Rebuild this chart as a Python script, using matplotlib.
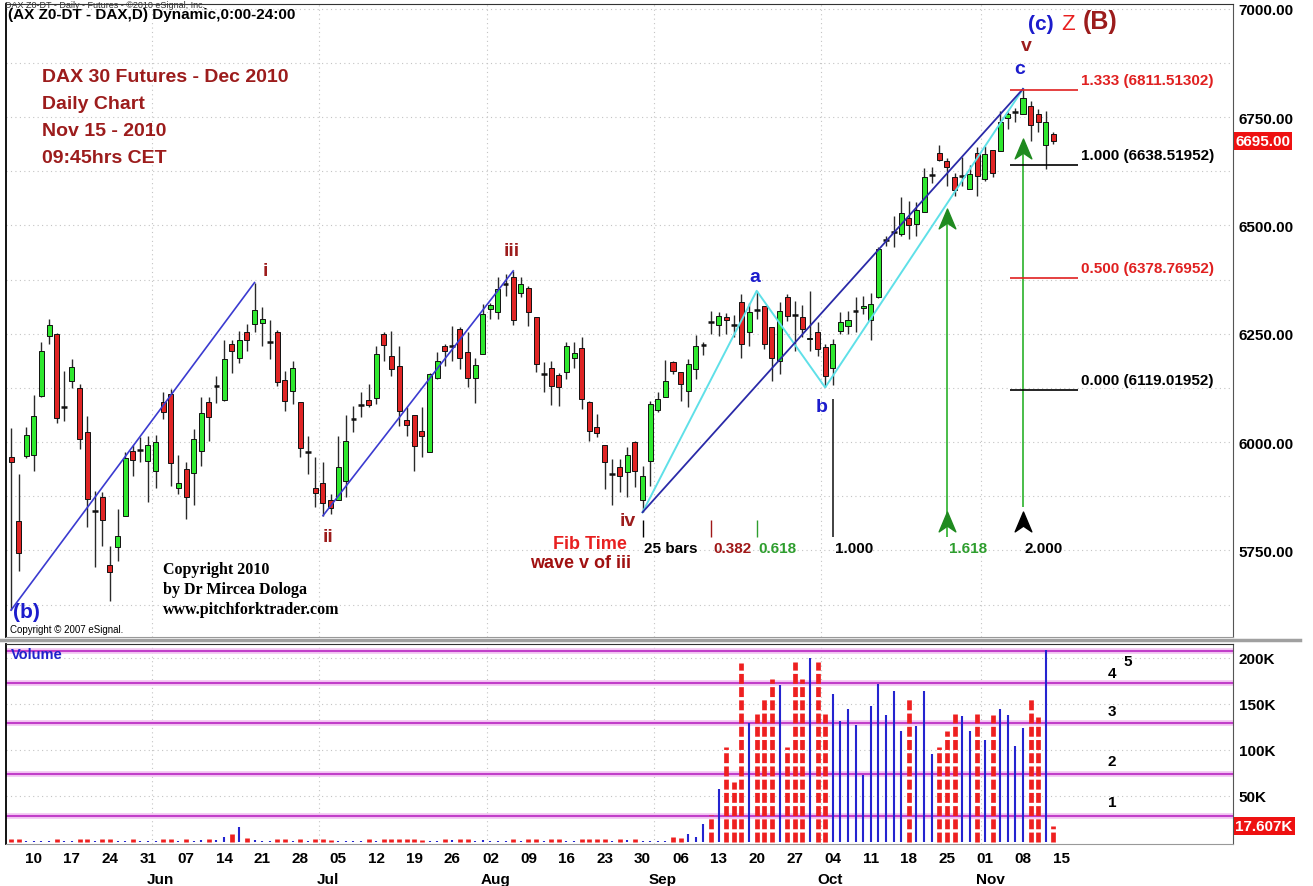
import numpy as np
import pandas as pd
import matplotlib

matplotlib.use("Agg")
import matplotlib.pyplot as plt
from matplotlib.lines import Line2D
from matplotlib.path import Path
from matplotlib.transforms import blended_transform_factory

plt.rcParams["font.family"] = ["Liberation Sans", "DejaVu Sans"]

# DAX Dec-2010 futures, daily bars (bar 0 = 2010-05-05)
opens = [5966, 5818, 5967, 5971, 6107, 6245, 6249, 6082, 6140, 6124, 6022, 5840, 5874, 5716, 5757,
         5830, 5980, 5982, 5957, 5934, 6092, 6111, 5894, 5938, 5928, 5980, 6092, 6130, 6097, 6226,
         6195, 6253, 6272, 6274, 6232, 6253, 6143, 6117, 6093, 5978, 5895, 5905, 5866, 5866, 5911,
         6053, 6086, 6098, 6101, 6249, 6199, 6175, 6052, 6063, 6026, 5978, 6148, 6222, 6222, 6261,
         6208, 6147, 6203, 6307, 6301, 6365, 6380, 6343, 6355, 6288, 6156, 6170, 6155, 6161, 6193,
         6216, 6092, 6034, 5993, 5926, 5942, 5930, 6001, 5867, 5957, 6075, 6105, 6184, 6161, 6117,
         6169, 6225, 6278, 6269, 6288, 6270, 6324, 6253, 6304, 6315, 6265, 6188, 6334, 6293, 6288,
         6237, 6253, 6219, 6170, 6257, 6267, 6302, 6310, 6282, 6334, 6466, 6484, 6480, 6516, 6503,
         6530, 6617, 6668, 6649, 6612, 6613, 6584, 6667, 6608, 6674, 6672, 6747, 6761, 6757, 6776,
         6757, 6685, 6711]
highs = [6032, 5926, 6035, 6108, 6230, 6284, 6252, 6165, 6192, 6134, 6061, 5888, 5884, 5761, 5845,
         5976, 5992, 6011, 6015, 6017, 6115, 6122, 5971, 5953, 6031, 6103, 6103, 6152, 6236, 6236,
         6257, 6272, 6368, 6312, 6282, 6258, 6165, 6188, 6093, 6013, 5965, 5953, 5880, 6015, 6063,
         6084, 6115, 6134, 6221, 6253, 6257, 6221, 6080, 6063, 6080, 6160, 6207, 6226, 6268, 6265,
         6255, 6195, 6318, 6322, 6380, 6388, 6395, 6380, 6361, 6288, 6184, 6188, 6159, 6230, 6230,
         6242, 6095, 6065, 5993, 5961, 5961, 5988, 6003, 5945, 6095, 6116, 6190, 6188, 6161, 6192,
         6247, 6232, 6302, 6299, 6297, 6293, 6342, 6322, 6349, 6315, 6265, 6324, 6342, 6326, 6316,
         6349, 6276, 6226, 6238, 6299, 6303, 6334, 6338, 6345, 6449, 6476, 6522, 6565, 6557, 6555,
         6632, 6634, 6685, 6655, 6622, 6657, 6639, 6680, 6684, 6674, 6765, 6761, 6770, 6815, 6788,
         6768, 6765, 6715]
lows = [5612, 5703, 5962, 5934, 6105, 6226, 6045, 6049, 6125, 5985, 5803, 5711, 5761, 5634, 5726,
        5830, 5921, 5953, 5861, 5894, 6053, 5899, 5880, 5822, 5855, 5945, 6003, 6090, 6094, 6159,
        6182, 6211, 6253, 6222, 6192, 6130, 6072, 6088, 5966, 5926, 5849, 5830, 5834, 5866, 5872,
        6022, 6057, 6080, 6088, 6188, 6152, 6038, 6015, 5934, 5965, 5976, 6145, 6176, 6188, 6168,
        6126, 6090, 6203, 6284, 6284, 6338, 6271, 6335, 6268, 6162, 6116, 6086, 6084, 6145, 6172,
        6076, 6003, 6011, 5892, 5855, 5885, 5872, 5896, 5838, 5899, 6070, 6103, 6157, 6095, 6080,
        6145, 6201, 6249, 6245, 6249, 6242, 6195, 6222, 6284, 6215, 6142, 6157, 6280, 6211, 6242,
        6211, 6199, 6126, 6132, 6249, 6249, 6253, 6295, 6236, 6332, 6453, 6449, 6476, 6468, 6476,
        6530, 6599, 6649, 6592, 6567, 6592, 6584, 6568, 6603, 6611, 6672, 6722, 6739, 6757, 6695,
        6715, 6630, 6688]
closes = [5955, 5744, 6017, 6061, 6209, 6270, 6055, 6082, 6174, 6007, 5869, 5840, 5820, 5701, 5782,
          5962, 5959, 5982, 5992, 6001, 6070, 5952, 5905, 5872, 6007, 6068, 6058, 6130, 6192, 6209,
          6235, 6235, 6305, 6284, 6232, 6138, 6095, 6171, 5986, 5978, 5882, 5859, 5847, 5942, 6002,
          6053, 6086, 6086, 6203, 6225, 6168, 6072, 6039, 5990, 6015, 6157, 6188, 6209, 6222, 6194,
          6148, 6178, 6295, 6316, 6353, 6365, 6282, 6365, 6299, 6180, 6156, 6129, 6126, 6222, 6205,
          6099, 6026, 6021, 5955, 5926, 5921, 5969, 5934, 5922, 6088, 6099, 6142, 6163, 6134, 6180,
          6222, 6225, 6277, 6292, 6282, 6269, 6226, 6301, 6303, 6226, 6193, 6303, 6292, 6292, 6261,
          6241, 6215, 6153, 6226, 6276, 6282, 6302, 6315, 6318, 6445, 6466, 6484, 6528, 6501, 6536,
          6612, 6617, 6652, 6634, 6582, 6613, 6618, 6613, 6665, 6622, 6738, 6757, 6761, 6795, 6732,
          6738, 6739, 6695]
volume_k = [3, 3, 1, 1, 1, 1, 3, 1, 1, 3, 3, 1, 3, 3, 1, 1, 3, 1, 1, 1, 3, 3, 1, 3, 1,
            2, 3, 2, 5, 9, 16, 4, 2, 1, 1, 3, 3, 1, 3, 1, 3, 3, 2, 1, 1, 1, 1, 3, 1, 3,
            3, 3, 3, 3, 2, 1, 1, 3, 2, 3, 3, 1, 2, 1, 1, 1, 3, 1, 3, 3, 1, 3, 3, 1, 1,
            3, 3, 3, 3, 1, 3, 2, 3, 1, 1, 1, 1,
            5, 4, 9, 5, 20, 29, 58, 103, 65, 194,
            129, 139, 157, 177, 171, 103, 195, 177, 200, 195,
            139, 161, 131, 144, 127, 73, 148, 172, 138, 164,
            120, 156, 126, 164, 96, 103, 121, 139, 137, 120,
            139, 111, 138, 144, 138, 104, 124, 157, 136, 209,
            17.607]

# Elliott wave pivots: (b), i, ii, iii  and  iv, a, b, c
wave_bars = [0, 32, 41, 66]
wave_prices = [5612, 6368, 5830, 6395]
abc_bars = [83, 98, 107, 133]
abc_prices = [5838, 6349, 6126, 6815]

fib_ratios = ["0.000", "0.500", "1.000", "1.333"]
fib_prices = [6119.01952, 6378.76952, 6638.51952, 6811.51302]
fib_colors = ["black", "#e02020", "black", "#e02020"]

time_start, time_span = 83, 25
time_ratios = [0.382, 0.618, 1.0, 1.618, 2.0]
time_colors = ["#a01818", "#2e9e2e", "black", "#2e9e2e", "black"]

volume_bands = [28.5, 74, 129, 172.5, 207]
band_labels = ["1", "2", "3", "4"]
band_label_vals = [43, 88, 142, 183]

last_price, last_volume = 6695.00, 17.607

dates = pd.bdate_range("2010-05-05", periods=len(closes) + 1)

RED, GREEN = "#e02424", "#2ee82e"
DARKRED, BLUE = "#9c1c1c", "#1c1ccc"

W, H = 1313, 887
fig = plt.figure(figsize=(W / 100, H / 100), dpi=100)


def panel(x0, y0, x1, y1):
    return fig.add_axes([x0 / W, 1 - y1 / H, (x1 - x0) / W, (y1 - y0) / H])


ax = panel(6, 5, 1233, 638)
axv = panel(6, 645, 1233, 845)
xlim = (-0.66, 160.6)

# ---- price panel ----
o, h, l, c = (np.array(v, float) for v in (opens, highs, lows, closes))
idx = np.arange(len(c))
doji = np.abs(c - o) <= 1.5
down = c < o

for y in np.arange(5625, 7001, 125):
    ax.axhline(y, color="#c4c4c4", lw=0.8, ls=(0, (1, 3)), zorder=0)
month_starts = [i for i in range(1, len(dates)) if dates[i].month != dates[i - 1].month]
for a in (ax, axv):
    for i in month_starts:
        a.axvline(i - 0.5, color="#c4c4c4", lw=0.8, ls=(0, (1, 3)), zorder=0)

ax.vlines(idx, l, h, color="#2a2a2a", lw=1.0, zorder=2)
body = ~doji
ax.bar(idx[body], (c - o)[body], bottom=o[body], width=0.66,
       color=np.where(down, RED, GREEN)[body], edgecolor="#111", linewidth=0.7, zorder=3)
ax.hlines(o[doji], idx[doji] - 0.38, idx[doji] + 0.38, color="#111", lw=1.8, zorder=3)

# wave lines
ax.plot(wave_bars[:2], wave_prices[:2], color="#3b3bd0", lw=1.2, zorder=4)
ax.plot(wave_bars[2:], wave_prices[2:], color="#3b3bd0", lw=1.2, zorder=4)
ax.plot(abc_bars, abc_prices, color="#5fe0e8", lw=1.4, zorder=4)
ax.plot([abc_bars[0], abc_bars[-1]], [abc_prices[0], abc_prices[-1]], color="#2a2aa8", lw=1.3, zorder=4)

# fib price levels
for lab, p, col in zip(fib_ratios, fib_prices, fib_colors):
    ax.hlines(p, 131.3, 140.2, color=col, lw=1.2, zorder=4)
    ax.text(140.6, p + 7, f"{lab} ({p:.5f})", color=col, fontsize=11, fontweight="bold",
            va="bottom", ha="left")

# fib time markers
chevron = Path([(0, 1), (0.8, -0.9), (0, -0.35), (-0.8, -0.9), (0, 1)],
               [Path.MOVETO, Path.LINETO, Path.LINETO, Path.LINETO, Path.CLOSEPOLY])
ax.vlines(time_start, 5780, 5820, color="black", lw=1.0)
ax.text(time_start + 0.2, 5755, f"{time_span} bars", fontsize=11, fontweight="bold", va="center")
for r, col in zip(time_ratios, time_colors):
    b = int(time_start + time_span * r)
    ax.text(b + 0.25, 5755, f"{r:.3f}", color=col, fontsize=11, fontweight="bold", va="center")
    if r < 1:
        ax.vlines(b, 5780, 5820, color=col, lw=1.0)
    elif r == 1:
        ax.vlines(b, 5780, 6100, color="#333", lw=1.3)
    elif r < 2:
        ax.vlines(b, 5780, 6520, color="#3cb83c", lw=1.3)
        ax.plot(b, 6515, marker=chevron, ms=15, color="#1f8a1f", zorder=5)
        ax.plot(b, 5815, marker=chevron, ms=15, color="#1f8a1f", zorder=5)
    else:
        ax.vlines(b, 5850, 6680, color="#3cb83c", lw=1.3)
        ax.plot(b, 6677, marker=chevron, ms=15, color="#1f8a1f", zorder=5)
        ax.plot(b, 5815, marker=chevron, ms=15, color="black", zorder=5)

# wave labels
wl = dict(fontweight="bold", ha="center", va="center")
ax.text(33.4, 6395, "i", color=DARKRED, fontsize=14, **wl)
ax.text(41.7, 5781, "ii", color=DARKRED, fontsize=14, **wl)
ax.text(65.8, 6441, "iii", color=DARKRED, fontsize=14, **wl)
ax.text(81.0, 5820, "iv", color=DARKRED, fontsize=14, **wl)
ax.text(133.5, 6915, "v", color=DARKRED, fontsize=14, **wl)
ax.text(97.8, 6381, "a", color=BLUE, fontsize=14, **wl)
ax.text(106.6, 6081, "b", color=BLUE, fontsize=14, **wl)
ax.text(132.6, 6861, "c", color=BLUE, fontsize=14, **wl)
ax.text(2.0, 5610, "(b)", color=BLUE, fontsize=15, **wl)
ax.text(135.3, 6965, "(c)", color=BLUE, fontsize=15, **wl)
ax.text(138.9, 6965, "Z", color="#e82020", fontsize=16, ha="center", va="center")
ax.text(143.1, 6972, "(B)", color=DARKRED, fontsize=18, **wl)
ax.text(76.1, 5765, "Fib Time", color="#e82020", fontsize=13, **wl)
ax.text(74.8, 5723, "wave v of iii", color="#a01010", fontsize=13, **wl)

for k, line in enumerate(["DAX 30 Futures - Dec 2010", "Daily Chart", "Nov 15 - 2010", "09:45hrs CET"]):
    fig.text(42 / W, 1 - (78 + 26.7 * k) / H, line, color=DARKRED, fontsize=14,
             fontweight="bold", va="center")
for k, line in enumerate(["Copyright 2010", "by Dr Mircea Dologa", "www.pitchforktrader.com"]):
    fig.text(163 / W, 1 - (570 + 20 * k) / H, line, family="Liberation Serif", fontsize=11.5,
             fontweight="bold", va="center")
fig.text(10 / W, 1 - 630 / H, "Copyright © 2007 eSignal.", fontsize=7, va="center")
fig.text(8 / W, 1 - 15 / H, "(AX Z0-DT - DAX,D) Dynamic,0:00-24:00", fontsize=11,
         fontweight="bold", va="center")
fig.text(5 / W, 1 - 1 / H, "DAX Z0-DT - Daily - Futures - ©2010 eSignal, Inc.", fontsize=6.5,
         va="top", color="#333")

ax.set_xlim(*xlim)
ax.set_ylim(5550, 7011)
ax.set_xticks([])
ax.yaxis.tick_right()
ax.set_yticks([5750, 6000, 6250, 6500, 6750, 7000])
ax.set_yticklabels([f"{v:.2f}" for v in ax.get_yticks()], fontweight="bold")
ax.tick_params(axis="y", length=0, pad=4, labelsize=11)
ax.text(1.002, last_price, f"{last_price:.2f}", transform=blended_transform_factory(ax.transAxes, ax.transData),
        color="white", fontsize=11, fontweight="bold", va="center", ha="left",
        bbox=dict(boxstyle="square,pad=0.12", fc="#ee1111", ec="none"))

# ---- volume panel ----
vol = np.array(volume_k, float)
vdown = c < o
for v in volume_bands:
    axv.axhline(v, color="#f2c2f2", lw=4.0, zorder=1)
    axv.axhline(v, color="#c03cc8", lw=1.4, zorder=1)
axv.vlines(idx[vdown], 0, vol[vdown], color="#ee2020", lw=3.4, ls=(0, (2.1, 0.7)), zorder=3)
axv.vlines(idx[~vdown], 0, vol[~vdown], color="#2424d0", lw=1.5, zorder=3)
for lab, v in zip(band_labels, band_label_vals):
    axv.text(144.7, v, lab, fontsize=11, fontweight="bold", ha="center", va="center")
axv.text(146.7, 197, "5", fontsize=11, fontweight="bold", ha="center", va="center")
axv.text(0.004, 0.95, "Volume", transform=axv.transAxes, color="#2020cc", fontsize=10.5,
         fontweight="bold", va="center")
for y in [50, 100, 150, 200]:
    axv.axhline(y, color="#c4c4c4", lw=0.8, ls=(0, (1, 3)), zorder=0)

axv.set_xlim(*xlim)
axv.set_ylim(-2.2, 215)
axv.yaxis.tick_right()
axv.set_yticks([50, 100, 150, 200])
axv.set_yticklabels([f"{v}K" for v in [50, 100, 150, 200]], fontweight="bold")
axv.tick_params(axis="y", length=0, pad=4, labelsize=11)
axv.text(1.002, last_volume, f"{last_volume:.3f}K",
         transform=blended_transform_factory(axv.transAxes, axv.transData),
         color="white", fontsize=11, fontweight="bold", va="center", ha="left",
         bbox=dict(boxstyle="square,pad=0.12", fc="#ee1111", ec="none"))

mondays = [i for i, d in enumerate(dates) if d.weekday() == 0]
axv.set_xticks(mondays)
axv.set_xticklabels([dates[i].strftime("%d") for i in mondays], fontweight="bold")
axv.tick_params(axis="x", length=0, pad=5, labelsize=11)
mtrans = blended_transform_factory(axv.transData, axv.transAxes)
for i in month_starts:
    axv.text(i + 0.7, -0.175, dates[i].strftime("%b"), transform=mtrans, fontsize=11,
             fontweight="bold", ha="center", va="center")

for a in (ax, axv):
    a.spines["left"].set_color("black")
    a.spines["left"].set_linewidth(1.3)
    a.spines["right"].set_color("#555")
    a.spines["top"].set_color("#333")
    a.spines["bottom"].set_color("#999")
fig.add_artist(Line2D([0, 1300 / W], [1 - 641 / H] * 2, color="#a0a0a0", lw=2.5))

fig.savefig("out.png", dpi=100)
